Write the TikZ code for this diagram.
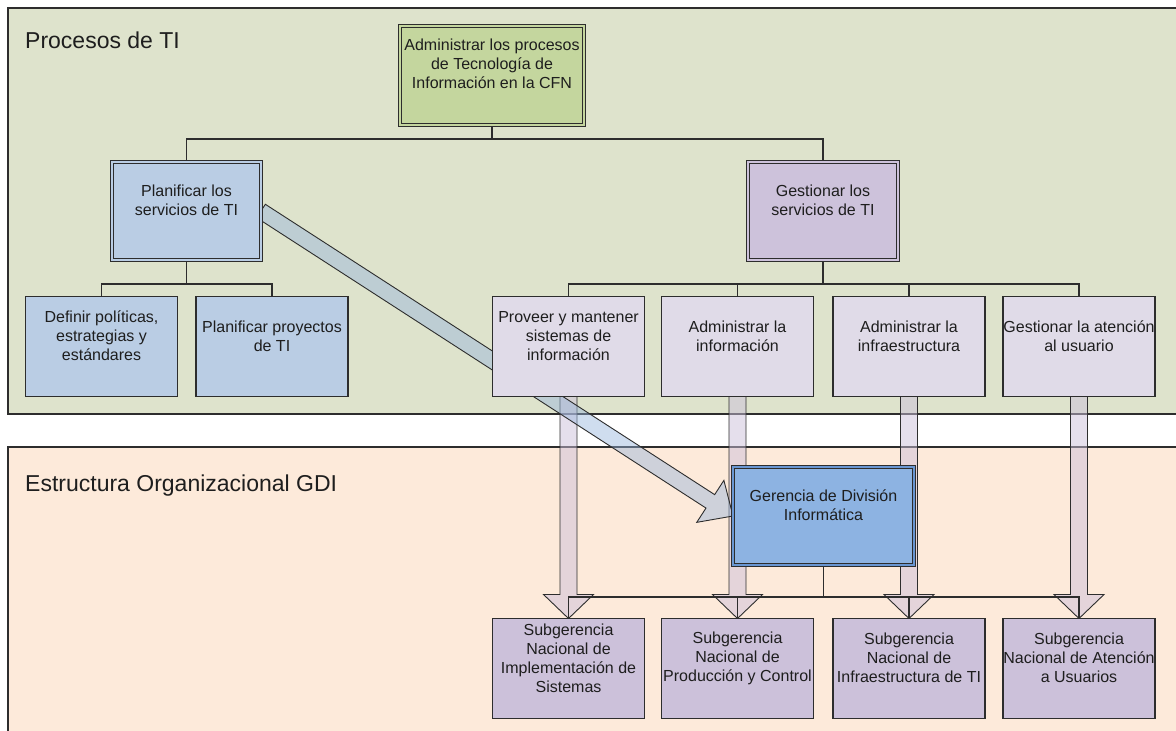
\documentclass[tikz,border=0pt]{standalone}
\usepackage{fontspec}
\setmainfont{Liberation Sans}
\usetikzlibrary{calc}
\pgfdeclarelayer{panels}
\pgfdeclarelayer{arrows}
\pgfdeclarelayer{lines}
\pgfsetlayers{panels,arrows,lines,main}

\definecolor{inkline}{RGB}{45,45,45}
\definecolor{inktext}{RGB}{30,30,30}
\definecolor{panelTop}{RGB}{222,227,204}
\definecolor{panelBot}{RGB}{253,234,218}
\definecolor{rootGreen}{RGB}{196,214,158}
\definecolor{planBlue}{RGB}{186,205,228}
\definecolor{gestLav}{RGB}{205,194,219}
\definecolor{procLav}{RGB}{224,219,232}
\definecolor{subLav}{RGB}{204,193,218}
\definecolor{gdiBlue}{RGB}{141,179,226}
\definecolor{gdiRim}{RGB}{105,150,210}
\definecolor{flowLav}{RGB}{204,192,218}
\definecolor{flowBlue}{RGB}{150,180,220}

\begin{document}
\begin{tikzpicture}[x=1pt,y=-1pt,
  panel/.style={draw=inkline, line width=1.1pt},
  box/.style={draw=inkline, line width=1.1pt, minimum width=152pt,
    minimum height=100pt, inner sep=0pt, outer sep=0pt},
  dbox/.style={draw=inkline, line width=0.9pt, double=#1, double distance=2.2pt,
    fill=#1, inner sep=0pt, outer sep=0pt},
  txt/.style={font=\fontsize{16}{19}\selectfont, align=center, text=inktext,
    inner sep=0pt, yshift=10.5pt},
  title/.style={font=\fontsize{23}{27}\selectfont, anchor=base west,
    text=inktext, inner sep=0pt},
  orgline/.style={draw=inkline, line width=1.1pt},
  flowdown/.style={draw=inkline, line width=0.9pt, fill=flowLav,
    fill opacity=0.5, line join=miter},
  flowdiag/.style={draw=inkline, line width=0.9pt, fill=flowBlue,
    fill opacity=0.45, line join=miter}
]
\useasboundingbox (0,0) rectangle (1176,731);

% background panels
\begin{pgfonlayer}{panels}
  \fill[white] (0,0) rectangle (1176,731);
  \draw[panel, fill=panelTop] (8,8) rectangle (1190,414);
  \draw[panel, fill=panelBot] (8,447) rectangle (1190,745);
\end{pgfonlayer}

\node[title] (ttop) at (25,48) {Procesos de TI};
\node[title] (tbot) at (25,491) {Estructura Organizacional GDI};

% process tree
\node[dbox=rootGreen, minimum width=184pt, minimum height=99pt] (adm) at (492,75.5) {};
\node[txt, yshift=1.5pt] (admt) at (adm.center) {Administrar los procesos\\de Tecnología de\\Información en la CFN};

\node[dbox=planBlue, minimum width=149pt, minimum height=98pt] (plan) at (186.5,211) {};
\node[txt] (plant) at (plan.center) {Planificar los\\servicios de TI};

\node[dbox=gestLav, minimum width=150pt, minimum height=98pt] (gest) at (823,211) {};
\node[txt] (gestt) at (gest.center) {Gestionar los\\servicios de TI};

\node[box, fill=planBlue] (def) at (101.5,346.5) {};
\node[txt] (deft) at (def.center) {Definir políticas,\\estrategias y\\estándares};
\node[box, fill=planBlue] (proy) at (272,346.5) {};
\node[txt] (proyt) at (proy.center) {Planificar proyectos\\de TI};

\node[box, fill=procLav] (p1) at (568.5,346.5) {};
\node[txt] (p1t) at (p1.center) {Proveer y mantener\\sistemas de\\información};
\node[box, fill=procLav] (p2) at (737.5,346.5) {};
\node[txt] (p2t) at (p2.center) {Administrar la\\información};
\node[box, fill=procLav] (p3) at (909,346.5) {};
\node[txt] (p3t) at (p3.center) {Administrar la\\infraestructura};
\node[box, fill=procLav] (p4) at (1079,346.5) {};
\node[txt] (p4t) at (p4.center) {Gestionar la atención\\al usuario};

% organisational structure
\node[dbox=gdiBlue, double=gdiRim, minimum width=181pt, minimum height=98pt] (gdi) at (823.5,516) {};
\node[txt] (gdit) at (gdi.center) {Gerencia de División\\Informática};

\node[box, fill=subLav] (s1) at (568.5,668.5) {};
\node[txt] (s1t) at (s1.center) {Subgerencia\\Nacional de\\Implementación de\\Sistemas};
\node[box, fill=subLav] (s2) at (737.5,668.5) {};
\node[txt] (s2t) at (s2.center) {Subgerencia\\Nacional de\\Producción y Control};
\node[box, fill=subLav] (s3) at (909,668.5) {};
\node[txt] (s3t) at (s3.center) {Subgerencia\\Nacional de\\Infraestructura de TI};
\node[box, fill=subLav] (s4) at (1079,668.5) {};
\node[txt] (s4t) at (s4.center) {Subgerencia\\Nacional de Atención\\a Usuarios};

% tree connectors
\coordinate (busA) at (492,139);
\coordinate (busB) at (186.5,284);
\coordinate (busC) at (823,284);
\coordinate (busD) at (823.5,597);
\begin{pgfonlayer}{lines}
  \draw[orgline] (adm.south) -- (busA);
  \draw[orgline] (plan.north) |- (busA) -| (gest.north);
  \draw[orgline] (plan.south) -- (busB);
  \draw[orgline] (def.north) |- (busB) -| (proy.north);
  \draw[orgline] (gest.south) -- (busC);
  \draw[orgline] (p1.north) |- (busC) -| (p4.north);
  \draw[orgline] (p2.north) -- (p2.north|-busC);
  \draw[orgline] (p3.north) -- (p3.north|-busC);
  \draw[orgline] (gdi.south) -- (busD);
  \draw[orgline] (s1.north) |- (busD) -| (s4.north);
  \draw[orgline] (s2.north) -- (s2.north|-busD);
  \draw[orgline] (s3.north) -- (s3.north|-busD);
\end{pgfonlayer}

% broad flow arrows from each process to its unit
\newcommand\flowarrow[2]{%
  \path[flowdown] ([xshift=-8.5pt]#1.south)
    -- ([xshift=-8.5pt,yshift=24pt]#2.north)
    -- ([xshift=-25pt,yshift=24pt]#2.north)
    -- (#2.north)
    -- ([xshift=25pt,yshift=24pt]#2.north)
    -- ([xshift=8.5pt,yshift=24pt]#2.north)
    -- ([xshift=8.5pt]#1.south) -- cycle;}
\coordinate (dhead) at ($(gdi.west)!27pt!(plan.east)$);
\begin{pgfonlayer}{arrows}
  \flowarrow{p1}{s1}
  \flowarrow{p2}{s2}
  \flowarrow{p3}{s3}
  \flowarrow{p4}{s4}
  \path[flowdiag] ($(plan.east)!8pt!90:(gdi.west)$)
    -- ($(dhead)!8pt!90:(gdi.west)$)
    -- ($(dhead)!25pt!90:(gdi.west)$)
    -- (gdi.west)
    -- ($(dhead)!25pt!-90:(gdi.west)$)
    -- ($(dhead)!8pt!-90:(gdi.west)$)
    -- ($(plan.east)!8pt!-90:(gdi.west)$) -- cycle;
\end{pgfonlayer}
\end{tikzpicture}
\end{document}
